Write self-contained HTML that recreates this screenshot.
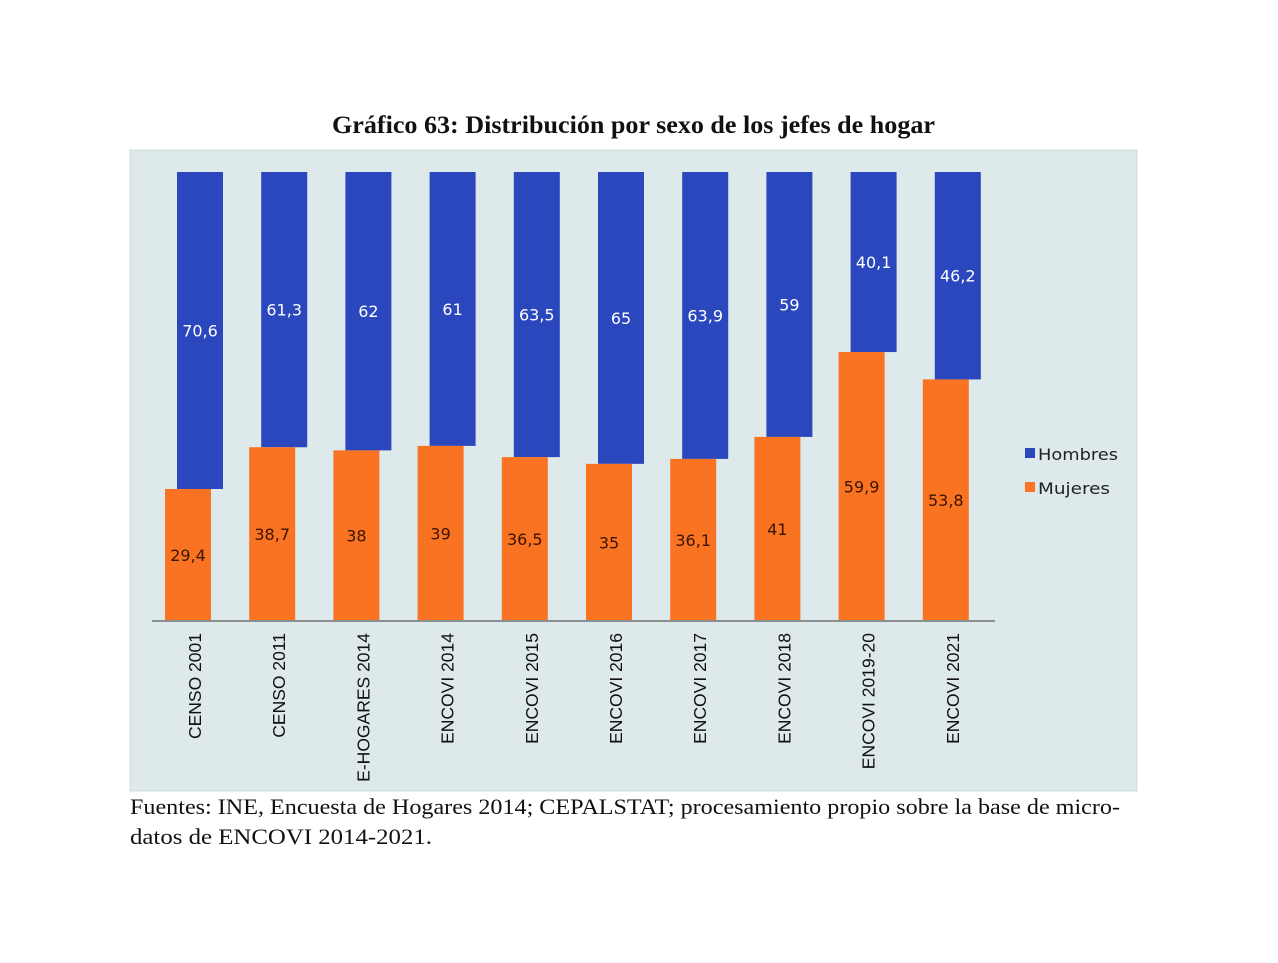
<!DOCTYPE html>
<html><head><meta charset="utf-8"><style>
body{margin:0;background:#fff;width:1278px;height:958px;overflow:hidden}
</style></head><body>
<svg width="1278" height="958" xmlns="http://www.w3.org/2000/svg">
<text x="332" y="133" textLength="603" lengthAdjust="spacingAndGlyphs" font-family="Liberation Serif, serif" font-weight="bold" font-size="25" fill="#111">Gráfico 63: Distribución por sexo de los jefes de hogar</text>
<rect x="130" y="150" width="1007" height="641" fill="#dde9ea" stroke="#cfdcdd"/>
<g id="bars"></g>
<line x1="152" y1="621" x2="995" y2="621" stroke="#8a9090" stroke-width="2"/>
<g font-family="DejaVu Sans, sans-serif" font-size="16" fill="#222">
<rect x="1025" y="448" width="10" height="10" fill="#2b47bd"/>
<text x="1038" y="460" textLength="80" lengthAdjust="spacingAndGlyphs">Hombres</text>
<rect x="1025" y="482" width="10" height="10" fill="#f97322"/>
<text x="1038" y="494" textLength="72" lengthAdjust="spacingAndGlyphs">Mujeres</text>
</g>
<g font-family="Liberation Serif, serif" font-size="22" fill="#111">
<text x="130" y="814" textLength="990" lengthAdjust="spacingAndGlyphs">Fuentes: INE, Encuesta de Hogares 2014; CEPALSTAT; procesamiento propio sobre la base de micro-</text>
<text x="130" y="844" textLength="302" lengthAdjust="spacingAndGlyphs">datos de ENCOVI 2014-2021.</text>
</g>
</svg>
<script>
const categories=["CENSO 2001","CENSO 2011","E-HOGARES 2014","ENCOVI 2014","ENCOVI 2015","ENCOVI 2016","ENCOVI 2017","ENCOVI 2018","ENCOVI 2019-20","ENCOVI 2021"];
const hombres=[70.6,61.3,62,61,63.5,65,63.9,59,40.1,46.2];
const mujeres=[29.4,38.7,38,39,36.5,35,36.1,41,59.9,53.8];
const hombresLabels=["70,6","61,3","62","61","63,5","65","63,9","59","40,1","46,2"];
const mujeresLabels=["29,4","38,7","38","39","36,5","35","36,1","41","59,9","53,8"];
const NS="http://www.w3.org/2000/svg";
const base=621,top0=172,x0=177,step=84.2,bw=46,off=12;
const y=v=>base-(v/100)*(base-top0);
const g=document.getElementById('bars');
function mk(t,a){const e=document.createElementNS(NS,t);for(const k in a)e.setAttribute(k,a[k]);g.appendChild(e);return e;}
categories.forEach((c,i)=>{
  const bx=x0+i*step, ox=bx-off;
  const tot=hombres[i]+mujeres[i];
  const yTop=y(tot), yMid=y(mujeres[i]);
  const b=mk('rect',{x:bx,y:yTop,width:bw,height:yMid-yTop,fill:'#2b47bd'});
  
  
  const o=mk('rect',{x:ox,y:yMid,width:bw,height:base-yMid,fill:'#f97322'});
  
  
  const tb=mk('text',{x:bx+bw/2,y:(yTop+yMid)/2+6,'text-anchor':'middle','font-family':'DejaVu Sans, sans-serif','font-size':'16',fill:'#fff'});
  tb.textContent=hombresLabels[i];
  
  
  const to=mk('text',{x:ox+bw/2,y:(yMid+base)/2+6,'text-anchor':'middle','font-family':'DejaVu Sans, sans-serif','font-size':'16',fill:'#3a1500'});
  to.textContent=mujeresLabels[i];
  
  
  const cx=bx+bw/2+1;
  const tc=mk('text',{x:0,y:0,transform:'translate('+cx+',633) rotate(-90)','text-anchor':'end','font-family':'Liberation Sans, sans-serif','font-size':'17.5',fill:'#111'});
  tc.textContent=c;
  
  
});
</script>
</body></html>
